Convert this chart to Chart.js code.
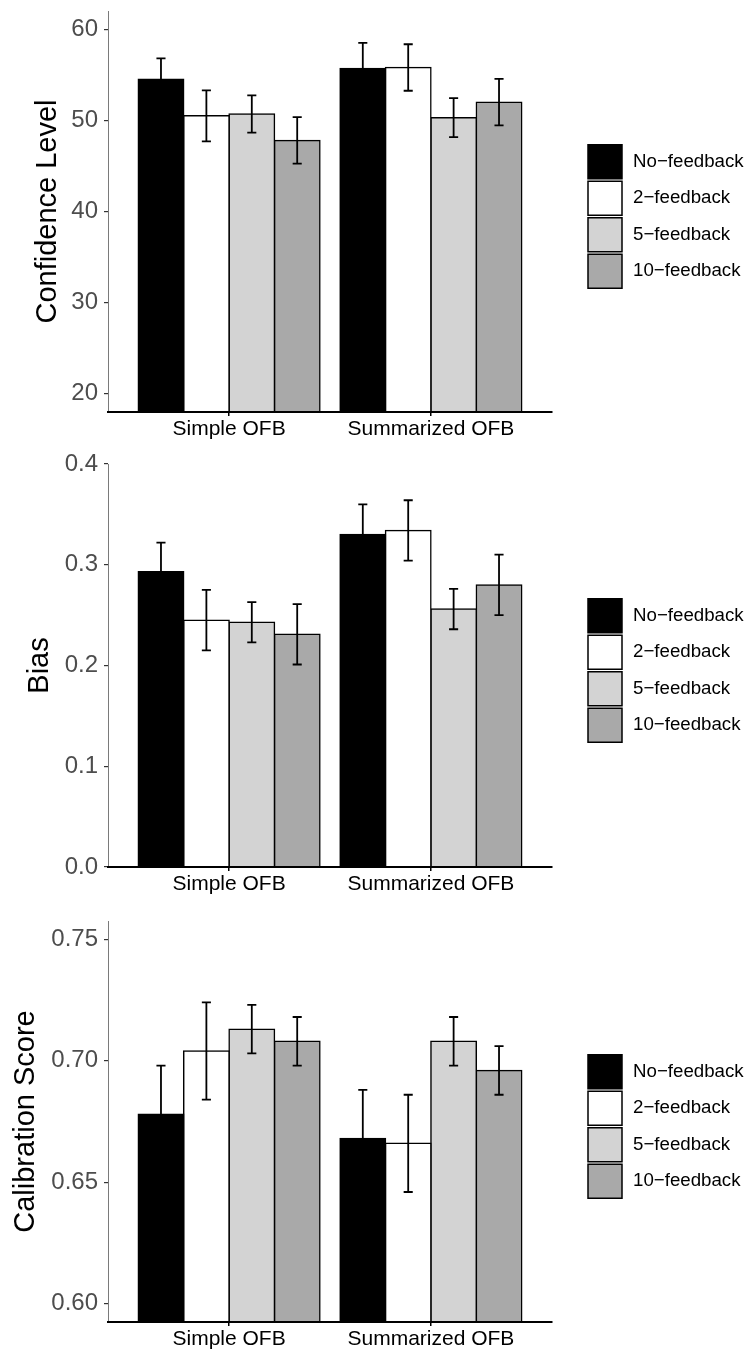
<!DOCTYPE html>
<html>
<head>
<meta charset="utf-8">
<script src="https://cdn.jsdelivr.net/npm/chart.js@4.4.1/dist/chart.umd.min.js"></script>
<style>
  body { margin: 0; background: #fff; }
  #wrap { position: relative; width: 747px; height: 1355px; }
  canvas { position: absolute; left: 0; }
</style>
</head>
<body>
<div id="wrap">
  <canvas id="confChart" width="747" height="448" style="top:0px"></canvas>
  <canvas id="biasChart" width="747" height="450" style="top:448px"></canvas>
  <canvas id="calChart" width="747" height="457" style="top:898px"></canvas>
</div>
<script>
/* ------------------------- */
/* DATA                      */
/* ------------------------- */
const groups = ["Simple OFB", "Summarized OFB"];
const seriesNames = ["No−feedback", "2−feedback", "5−feedback", "10−feedback"];

// Confidence Level
const confNoFb = [54.5, 55.7];
const conf2Fb = [50.5, 55.8];
const conf5Fb = [50.7, 50.3];
const conf10Fb = [47.8, 52.0];
const confNoFbErr = [2.3, 2.8];
const conf2FbErr = [2.8, 2.55];
const conf5FbErr = [2.05, 2.15];
const conf10FbErr = [2.55, 2.55];
const confTicks = [20, 30, 40, 50, 60];
const confTickLabels = ["20", "30", "40", "50", "60"];

// Bias
const biasNoFb = [0.293, 0.330];
const bias2Fb = [0.245, 0.334];
const bias5Fb = [0.243, 0.256];
const bias10Fb = [0.231, 0.280];
const biasNoFbErr = [0.029, 0.030];
const bias2FbErr = [0.030, 0.030];
const bias5FbErr = [0.020, 0.020];
const bias10FbErr = [0.030, 0.030];
const biasTicks = [0, 0.1, 0.2, 0.3, 0.4];
const biasTickLabels = ["0.0", "0.1", "0.2", "0.3", "0.4"];

// Calibration Score
const calNoFb = [0.678, 0.668];
const cal2Fb = [0.704, 0.666];
const cal5Fb = [0.713, 0.708];
const cal10Fb = [0.708, 0.696];
const calNoFbErr = [0.020, 0.020];
const cal2FbErr = [0.020, 0.020];
const cal5FbErr = [0.010, 0.010];
const cal10FbErr = [0.010, 0.010];
const calTicks = [0.60, 0.65, 0.70, 0.75];
const calTickLabels = ["0.60", "0.65", "0.70", "0.75"];

/* ------------------------- */
/* STYLE                     */
/* ------------------------- */
const fills = ["#000000", "#ffffff", "#d3d3d3", "#a9a9a9"];
Chart.defaults.font.family = "'Liberation Sans', Arial, sans-serif";

/* ------------------------- */
/* PLUGINS                   */
/* ------------------------- */
const errorBars = {
  id: "errorBars",
  afterDatasetsDraw(chart) {
    const ctx = chart.ctx;
    const y = chart.scales.y;
    ctx.save();
    ctx.strokeStyle = "#000";
    ctx.lineWidth = 1.8;
    chart.data.datasets.forEach((ds, k) => {
      chart.getDatasetMeta(k).data.forEach((bar, i) => {
        const v = ds.data[i].y, e = ds.errors[i];
        const top = y.getPixelForValue(v + e);
        const bot = y.getPixelForValue(v - e);
        const hw = bar.width * 0.1;
        ctx.beginPath();
        ctx.moveTo(bar.x, top); ctx.lineTo(bar.x, bot);
        ctx.moveTo(bar.x - hw, top); ctx.lineTo(bar.x + hw, top);
        ctx.moveTo(bar.x - hw, bot); ctx.lineTo(bar.x + hw, bot);
        ctx.stroke();
      });
    });
    ctx.restore();
  }
};

// legend to the right of the panel, keys stacked tightly like ggplot
const sideLegend = {
  id: "sideLegend",
  afterDraw(chart) {
    const { ctx, chartArea } = chart;
    const pitch = 36.5, size = 34;
    const x = chartArea.right + 36;
    const mid = (chartArea.top + chartArea.bottom) / 2 + 5;
    const n = chart.data.datasets.length;
    ctx.save();
    ctx.font = "18.7px 'Liberation Sans', Arial, sans-serif";
    ctx.textBaseline = "middle";
    chart.data.datasets.forEach((ds, k) => {
      const y = mid - n * pitch / 2 + k * pitch + (pitch - size) / 2;
      ctx.fillStyle = ds.backgroundColor;
      ctx.fillRect(x, y, size, size);
      ctx.lineWidth = 1.5;
      ctx.strokeStyle = "#000";
      ctx.strokeRect(x, y, size, size);
      ctx.fillStyle = "#000";
      ctx.fillText(ds.label, x + 45, y + size / 2);
    });
    ctx.restore();
  }
};

/* ------------------------- */
/* CHART BUILDER             */
/* ------------------------- */
function groupedBars(id, series, errors, opts) {
  const canvas = document.getElementById(id);
  const H = canvas.height;
  return new Chart(canvas, {
    type: "bar",
    data: {
      datasets: series.map((vals, k) => ({
        label: seriesNames[k],
        data: vals.map((v, i) => ({ x: i + 1, y: v })),
        errors: errors[k],
        backgroundColor: fills[k],
        borderColor: "#000",
        borderWidth: 1.5,
        inflateAmount: 0.75,
        categoryPercentage: 0.9,
        barPercentage: 1,
        clip: 0
      }))
    },
    options: {
      responsive: false,
      animation: false,
      events: [],
      layout: { padding: { top: opts.top, right: 195, left: 0, bottom: 0 } },
      plugins: { legend: { display: false }, tooltip: { enabled: false } },
      scales: {
        x: {
          type: "linear",
          min: 0.4,
          max: 2.6,
          offset: false,
          afterBuildTicks: s => { s.ticks = groups.map((g, i) => ({ value: i + 1 })); },
          afterFit: s => { s.height = H - opts.bottom; s.paddingLeft = 0; s.paddingRight = 0; },
          grid: { display: true, drawOnChartArea: false, offset: false, tickLength: 4, color: "#000", lineWidth: 1.5 },
          border: { display: true, color: "#000", width: 2, z: 1 },
          ticks: {
            padding: 3, color: "#000", maxRotation: 0, autoSkip: false,
            font: { size: 21, lineHeight: 1 },
            callback: v => groups[Math.round(v) - 1]
          }
        },
        y: {
          min: opts.min,
          max: opts.max,
          beginAtZero: false,
          afterBuildTicks: s => { s.ticks = opts.ticks.map(v => ({ value: v })); },
          afterFit: s => { s.width = 108; s.paddingTop = 0; s.paddingBottom = 0; },
          grid: { display: true, drawOnChartArea: false, tickLength: 4, color: "#333", lineWidth: 1.2 },
          border: { display: true, color: "#7a7a7a", width: 1 },
          ticks: {
            padding: 6, color: "#4d4d4d", autoSkip: false,
            font: { size: 24 },
            callback: (v, i) => opts.tickLabels[i]
          },
          title: {
            display: true, text: opts.title, color: "#000",
            font: { size: 29 },
            padding: { top: opts.titlePad, bottom: 0 }
          }
        }
      }
    },
    plugins: [errorBars, sideLegend]
  });
}

/* ------------------------- */
/* 1. CONFIDENCE LEVEL       */
/* ------------------------- */
groupedBars("confChart",
  [confNoFb, conf2Fb, conf5Fb, conf10Fb],
  [confNoFbErr, conf2FbErr, conf5FbErr, conf10FbErr],
  { title: "Confidence Level", min: 18, max: 62, ticks: confTicks, tickLabels: confTickLabels,
    top: 11, bottom: 412, titlePad: 31 });

/* ------------------------- */
/* 2. BIAS                   */
/* ------------------------- */
groupedBars("biasChart",
  [biasNoFb, bias2Fb, bias5Fb, bias10Fb],
  [biasNoFbErr, bias2FbErr, bias5FbErr, bias10FbErr],
  { title: "Bias", min: 0, max: 0.4, ticks: biasTicks, tickLabels: biasTickLabels,
    top: 16, bottom: 419, titlePad: 23 });

/* ------------------------- */
/* 3. CALIBRATION SCORE      */
/* ------------------------- */
groupedBars("calChart",
  [calNoFb, cal2Fb, cal5Fb, cal10Fb],
  [calNoFbErr, cal2FbErr, cal5FbErr, cal10FbErr],
  { title: "Calibration Score", min: 0.5925, max: 0.7575, ticks: calTicks, tickLabels: calTickLabels,
    top: 23, bottom: 424, titlePad: 9 });
</script>
</body>
</html>
